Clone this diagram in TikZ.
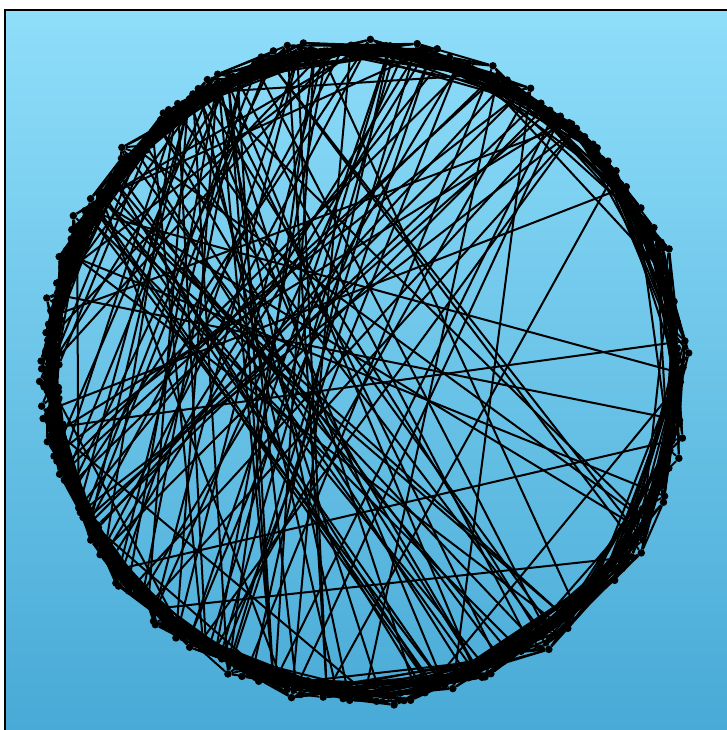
\documentclass[tikz,border=0pt]{standalone}
\definecolor{bgtop}{RGB}{143,222,250}
\definecolor{bgbot}{RGB}{72,170,214}
\begin{document}
\begin{tikzpicture}[x=1pt,y=1pt,
  dot/.style={circle,fill=black,inner sep=0pt,minimum size=7.5pt},
  edge/.style={line width=2pt,black},
  frame/.style={line width=2.2pt,black}]
\useasboundingbox (0,0) rectangle (727,730);
\shade[top color=bgtop,bottom color=bgbot] (5,0) rectangle (727,720);
\draw[frame] (5,0) -- (5,720) -- (727,720);
\pgfmathsetseed{23}
\def\N{560}
\pgfmathsetmacro\step{360/\N}
\foreach \i in {1,...,\N} {
  \pgfmathsetmacro\t{(\i+0.4*rand)*\step}
  \pgfmathsetmacro\ang{\t+38*sin(\t)}
  \pgfmathsetmacro\dr{5*rand+(rnd>0.55)*13*rnd}
  \node[dot] (n\i) at ({366+(312+\dr)*cos(\ang)},{359+(320+\dr)*sin(\ang)}) {};
}
\foreach \i in {1,...,\N} {
  \pgfmathtruncatemacro\j{mod(\i+random(1,6)-1,\N)+1}
  \pgfmathtruncatemacro\k{mod(\i+random(4,18)-1,\N)+1}
  \pgfmathtruncatemacro\l{mod(\i+random(10,40)-1,\N)+1}
  \draw[edge] (n\i) -- (n\j);
  \draw[edge] (n\i) -- (n\k);
  \draw[edge] (n\i) -- (n\l);
}
% chords from the lower left to the top
\foreach \e in {1,...,60} {
  \pgfmathtruncatemacro\a{random(340,470)}
  \pgfmathtruncatemacro\b{random(45,150)}
  \draw[edge] (n\a) -- (n\b);
}
% chords from the upper left to the lower right
\foreach \e in {1,...,30} {
  \pgfmathtruncatemacro\a{random(100,190)}
  \pgfmathtruncatemacro\b{random(475,535)}
  \draw[edge] (n\a) -- (n\b);
}
% other chords
\foreach \e in {1,...,55} {
  \pgfmathtruncatemacro\a{random(1,\N)}
  \pgfmathtruncatemacro\b{random(1,\N)}
  \draw[edge] (n\a) -- (n\b);
}
\end{tikzpicture}
\end{document}
